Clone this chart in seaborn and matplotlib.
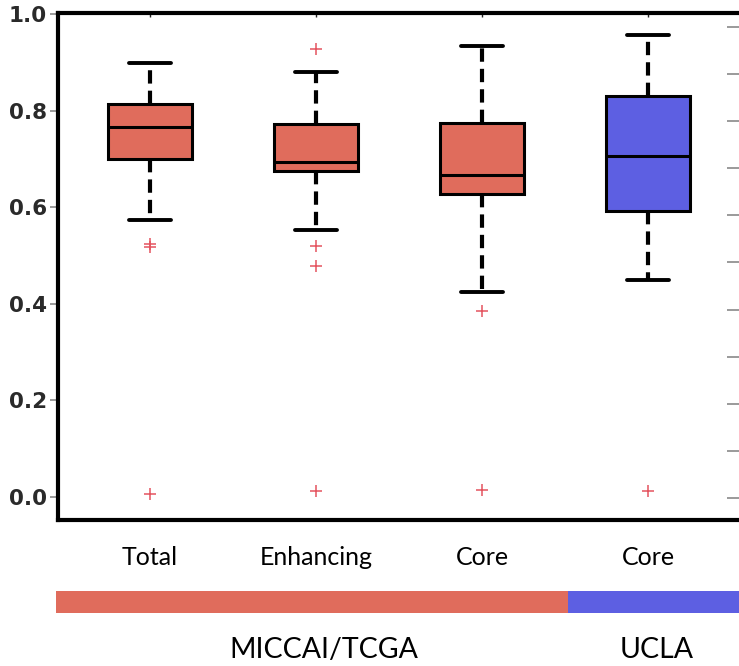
import numpy as np
import pandas as pd
import matplotlib
matplotlib.use("Agg")
import matplotlib.pyplot as plt
import matplotlib.transforms as mtransforms
from matplotlib.patches import Rectangle
import seaborn as sns

# Per-case Dice scores for each segmented region
regions = ["Total", "Enhancing", "Core", "Core (UCLA)"]
tick_labels = ["Total", "Enhancing", "Core", "Core"]
cohorts = ["MICCAI/TCGA", "MICCAI/TCGA", "MICCAI/TCGA", "UCLA"]
cohort_order = ["MICCAI/TCGA", "UCLA"]

dice_total = [0.005, 0.518, 0.525, 0.573, 0.701, 0.712, 0.728, 0.745, 0.766,
              0.779, 0.790, 0.803, 0.815, 0.832, 0.851, 0.874, 0.900]
dice_enhancing = [0.012, 0.479, 0.519, 0.554, 0.676, 0.681, 0.686, 0.690, 0.695,
                  0.718, 0.739, 0.756, 0.772, 0.804, 0.848, 0.880, 0.929]
dice_core = [0.015, 0.386, 0.425, 0.561, 0.627, 0.638, 0.650, 0.659, 0.668,
             0.695, 0.721, 0.752, 0.776, 0.812, 0.853, 0.897, 0.934]
dice_core_ucla = [0.012, 0.450, 0.512, 0.561, 0.593, 0.624, 0.655, 0.683, 0.707,
                  0.741, 0.772, 0.803, 0.830, 0.861, 0.889, 0.921, 0.958]

y_ticks = [0.0, 0.2, 0.4, 0.6, 0.8, 1.0]

cohort_colors = {"MICCAI/TCGA": "#E06C5C", "UCLA": "#5D5FE2"}

series = [dice_total, dice_enhancing, dice_core, dice_core_ucla]
df = pd.DataFrame({
    "region": np.repeat(regions, [len(s) for s in series]),
    "cohort": np.repeat(cohorts, [len(s) for s in series]),
    "dice": np.concatenate(series),
})

sns.set_style("white")
plt.rcParams["font.family"] = ["DejaVu Sans"]

W, H = 739, 666
fig = plt.figure(figsize=(W / 100, H / 100), dpi=100)
ax = fig.add_axes([58 / W, 146 / H, (745 - 58) / W, (653 - 146) / H])

sns.boxplot(
    data=df, x="region", y="dice", hue="cohort",
    order=regions, hue_order=cohort_order, palette=cohort_colors,
    dodge=False, width=0.51, whis=1.5, saturation=1, legend=False,
    linecolor="black", linewidth=2.2,
    whiskerprops=dict(linestyle=(0, (3.2, 1.7)), linewidth=3.0, color="black"),
    capprops=dict(linewidth=2.8, color="black"),
    medianprops=dict(linewidth=2.2, color="black"),
    flierprops=dict(marker="+", markersize=8, markeredgewidth=1.1,
                    markeredgecolor="#E4545F", markerfacecolor="#E4545F"),
    ax=ax,
)

ax.set_xlim(-0.554, 3.584)
ax.set_ylim(-0.048, 1.003)
ax.set_xlabel("")
ax.set_ylabel("")
ax.set_yticks(y_ticks)
ax.set_yticklabels([f"{v:.1f}" for v in y_ticks])
ax.set_xticks(range(len(regions)))
ax.set_xticklabels(tick_labels)

for side in ["left", "top", "bottom", "right"]:
    ax.spines[side].set_linewidth(3.0)
    ax.spines[side].set_color("black")

ax.tick_params(axis="y", direction="out", length=6, width=1.4, color="#9a9a9a",
               labelsize=15.5, labelcolor="#2a2a2a", pad=2)
for lbl in ax.get_yticklabels():
    lbl.set_fontweight("bold")
ax.tick_params(axis="x", direction="in", length=3, width=1, color="#222222",
               top=True, pad=19, labelsize=18, labelcolor="black")
for lbl in ax.get_xticklabels():
    lbl.set_fontfamily(["Lato", "DejaVu Sans"])

# Ticks of the neighbouring scale along the right edge
ax_r = ax.twinx()
ax_r.set_ylim(-0.047, 1.030)
ax_r.set_yticks(np.arange(0, 1.01, 0.1))
ax_r.tick_params(axis="y", direction="in", length=13, width=1.4, color="#9a9a9a",
                 labelright=False, right=True)
for side in ["left", "top", "bottom", "right"]:
    ax_r.spines[side].set_visible(False)

# Cohort band below the category labels
trans = mtransforms.blended_transform_factory(ax.transData, fig.transFigure)
band_y, band_h = (H - 613) / H, 22 / H
x_left = ax.get_xlim()[0] - 0.012
for cohort in cohort_order:
    idx = [i for i, c in enumerate(cohorts) if c == cohort]
    x0 = idx[0] - 0.48 if idx[0] > 0 else x_left
    x1 = idx[-1] + 0.52 if idx[-1] < len(cohorts) - 1 else 4.0
    ax.add_patch(Rectangle((x0, band_y), x1 - x0, band_h, transform=trans,
                           facecolor=cohort_colors[cohort], edgecolor="none",
                           clip_on=False))
    ax.text(np.mean(idx) + 0.05, (H - 650) / H, cohort, transform=trans,
            ha="center", va="center", fontsize=20.5, color="black",
            family=["Lato", "DejaVu Sans"])

fig.savefig("out.png", dpi=100, facecolor="white")
